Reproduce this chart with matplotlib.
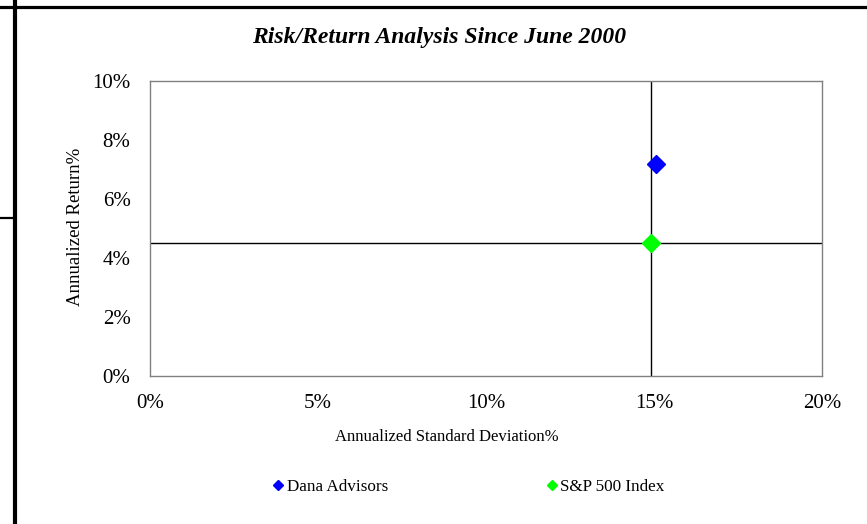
import matplotlib.pyplot as plt
from matplotlib.lines import Line2D
from matplotlib.ticker import PercentFormatter

# risk / return since June 2000 (in %)
names = ["Dana Advisors", "S&P 500 Index"]
std_dev = [15.05, 14.9]
returns = [7.2, 4.5]
colors = ["#0000FF", "#00FF00"]

x_ticks = [0, 5, 10, 15, 20]
y_ticks = [0, 2, 4, 6, 8, 10]

plt.rcParams["font.family"] = ["Liberation Serif", "DejaVu Serif"]

W, H = 867, 524
fig = plt.figure(figsize=(W / 100, H / 100), dpi=100)
ax = fig.add_axes([150 / W, 1 - 376 / H, 672 / W, 295 / H])

# benchmark crosshair through the S&P point
ax.axvline(std_dev[1], color="black", lw=1, zorder=1)
ax.axhline(returns[1], color="black", lw=1, zorder=1)

for name, sx, ry, c in zip(names, std_dev, returns, colors):
    ax.plot([sx], [ry], marker="D", ms=9, color=c, ls="none", label=name, zorder=3)

ax.set_xlim(0, 20)
ax.set_ylim(0, 10)
ax.set_xticks(x_ticks)
ax.set_yticks(y_ticks)
ax.xaxis.set_major_formatter(PercentFormatter(decimals=0))
ax.yaxis.set_major_formatter(PercentFormatter(decimals=0))
ax.tick_params(length=0, labelsize=15)
ax.tick_params(axis="x", pad=13)
ax.tick_params(axis="y", pad=14)
for s in ax.spines.values():
    s.set_color("#808080")
    s.set_linewidth(1)

fig.text(447 / W, 1 - 437 / H, "Annualized Standard Deviation%",
         ha="center", va="center", fontsize=12)
fig.text(75 / W, 1 - 227 / H, "Annualized Return%", rotation=90,
         ha="center", va="center", fontsize=13.5)

fig.text(439 / W, 1 - 37 / H, "Risk/Return Analysis Since June 2000",
         ha="center", va="center", fontsize=17, fontweight="bold", fontstyle="italic")

handles = [Line2D([], [], marker="D", ms=5.5, color=c, ls="none") for c in colors]
fig.legend(handles, names, loc="center", bbox_to_anchor=(468 / W, 1 - 487 / H),
           ncol=2, frameon=False, fontsize=12.3, handletextpad=0.1,
           columnspacing=9.2, handlelength=0.8)

# outer page rules
fig.add_artist(Line2D([0, 1], [1 - 6.5 / H] * 2, color="black", lw=2.3))
fig.add_artist(Line2D([15 / W] * 2, [0, 1], color="black", lw=3))
fig.add_artist(Line2D([0, 15 / W], [1 - 217.5 / H] * 2, color="black", lw=1.6))

fig.savefig("out.png", dpi=100)
